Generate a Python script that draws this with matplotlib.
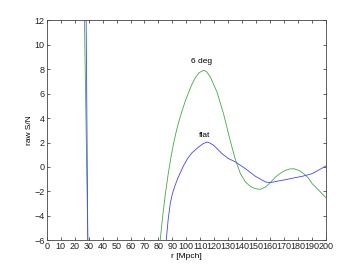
import matplotlib
matplotlib.use("Agg")
from matplotlib import pyplot as plt

# green curve (6 deg)
r_tilt = [0, 20, 26, 30, 40, 60, 76, 79, 81.3, 83, 85, 87, 89, 91, 93, 95,
          97, 99, 101.7, 104, 106.5, 109, 112.4, 114.5, 117.2, 122, 126.8,
          131.6, 135.2, 138.8, 142.4, 146, 149.6, 153.2, 156.8, 160.4, 164,
          167.6, 171.2, 174, 177, 181, 184.2, 187.5, 190.2, 195, 200]
sn_tilt = [40, 40, 19.5, -10.5, -40, -40, -30, -18, -6, -4.1, -2.2, -0.6,
           0.8, 2.0, 3.0, 3.85, 4.6, 5.3, 6.1, 6.75, 7.3, 7.7, 7.91, 7.8,
           7.36, 6.13, 4.3, 2.1, 0.6, -0.55, -1.23, -1.6, -1.78, -1.83, -1.64,
           -1.25, -0.82, -0.5, -0.27, -0.17, -0.14, -0.3, -0.55, -0.9, -1.36,
           -1.91, -2.5]

# blue curve (flat)
r_flat = [0, 20, 28, 30, 40, 60, 80, 83, 85.6, 87, 88.5, 90, 92, 94, 96, 98,
          101, 104, 106.5, 109, 112, 114.9, 117, 119.6, 125.6, 130, 135.2,
          142.4, 149.6, 156.8, 160.3, 165, 171.2, 177, 183, 190.2, 195, 200]
sn_flat = [40, 40, 15, -15, -40, -40, -30, -15, -6, -4.3, -3.0, -2.2, -1.5,
           -0.9, -0.4, 0.1, 0.7, 1.15, 1.4, 1.65, 1.9, 2.04, 1.95, 1.77, 1.09,
           0.7, 0.41, -0.14, -0.77, -1.23, -1.28, -1.17, -1.04, -0.9, -0.77,
           -0.55, -0.25, 0.08]

xticks = list(range(0, 201, 10))
yticks = list(range(-6, 13, 2))

plt.rcParams['font.family'] = ['Liberation Sans', 'DejaVu Sans']
fig = plt.figure(figsize=(3.6, 2.7), dpi=100)
ax = fig.add_axes([0.13, 0.11, 0.775, 0.815])

ax.plot(r_tilt, sn_tilt, color='#45a845', lw=0.6)
ax.plot(r_flat, sn_flat, color='#4444ff', lw=0.6)

ax.text(111, 8.3, '6 deg', fontsize=6, ha='center', va='bottom')
ax.text(113, 2.3, 'flat', fontsize=6, ha='center', va='bottom')

ax.set_xlim(0, 200)
ax.set_ylim(-6, 12)
ax.set_xticks(xticks)
ax.set_yticks(yticks)
ax.tick_params(direction='in', length=2.5, width=0.5, labelsize=6.5,
               top=True, right=True, pad=1.5, colors='#222222')
for s in ax.spines.values():
    s.set_linewidth(0.6)
    s.set_color('#444444')
ax.set_xlabel('r [Mpch]', fontsize=6, labelpad=1)
ax.set_ylabel('raw S/N', fontsize=6, labelpad=1)

fig.savefig('out.png', dpi=100)
